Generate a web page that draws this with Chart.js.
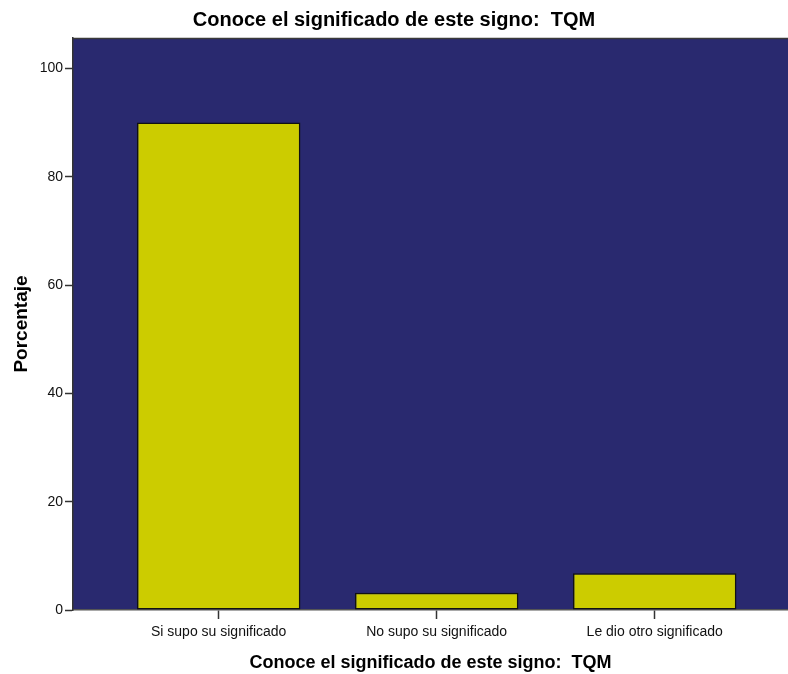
<!DOCTYPE html>
<html>
<head>
<meta charset="utf-8">
<script src="https://cdn.jsdelivr.net/npm/chart.js@4/dist/chart.umd.min.js"></script>
<style>
  html, body { margin: 0; padding: 0; background: #ffffff; }
  #c { display: block; }
</style>
</head>
<body>
<canvas id="c" width="788" height="674"></canvas>
<script>
const chartTitle = 'Conoce el significado de este signo:  TQM';
const xAxisTitle = 'Conoce el significado de este signo:  TQM';
const yAxisTitle = 'Porcentaje';
const categories = ['Si supo su significado', 'No supo su significado', 'Le dio otro significado'];
const percentages = [90.0, 3.2, 6.8];
const yTicks = [0, 20, 40, 60, 80, 100];
const categoryPositions = [1, 2, 3];

const FONT = 'Arial, "Liberation Sans", Helvetica, sans-serif';
const PLOT_BG = '#29296f';
const BAR_FILL = '#cccc00';

const plotBackground = {
  id: 'plotBackground',
  beforeDraw(chart) {
    const { ctx, chartArea: a } = chart;
    ctx.save();
    ctx.fillStyle = PLOT_BG;
    ctx.fillRect(a.left, a.top, a.right - a.left, a.bottom - a.top);
    ctx.strokeStyle = '#3a3a3a';
    ctx.lineWidth = 1.5;
    ctx.beginPath();
    ctx.moveTo(a.left, a.top + 0.5);
    ctx.lineTo(a.right, a.top + 0.5);
    ctx.stroke();
    ctx.restore();
  }
};

new Chart(document.getElementById('c'), {
  type: 'bar',
  data: {
    datasets: [{
      label: yAxisTitle,
      data: percentages.map((v, i) => ({ x: categoryPositions[i], y: v })),
      backgroundColor: BAR_FILL,
      borderColor: '#111111',
      borderWidth: 1.5,
      borderSkipped: false,
      categoryPercentage: 0.75,
      barPercentage: 1.0
    }]
  },
  options: {
    responsive: false,
    animation: false,
    layout: { padding: 0 },
    plugins: {
      legend: { display: false },
      tooltip: { enabled: false },
      title: {
        display: true,
        text: chartTitle,
        color: '#000',
        font: { family: FONT, size: 20, weight: 'bold' },
        padding: { top: 8, bottom: 6 }
      }
    },
    scales: {
      x: {
        type: 'linear',
        offset: false,
        min: 0.3317,
        max: 3.6115,
        afterBuildTicks(scale) {
          scale.ticks = categoryPositions.map(v => ({ value: v }));
        },
        afterFit(scale) { scale.height = 64; },
        grid: {
          offset: false,
          drawOnChartArea: false,
          drawTicks: true,
          tickLength: 9,
          tickColor: '#333',
          tickWidth: 1.5
        },
        border: { display: true, color: '#555', width: 1.5 },
        ticks: {
          autoSkip: false,
          maxRotation: 0,
          padding: 5,
          color: '#111',
          font: { family: FONT, size: 14 },
          callback(value) {
            const i = categoryPositions.indexOf(value);
            return i >= 0 ? categories[i] : '';
          }
        },
        title: {
          display: true,
          text: xAxisTitle,
          color: '#000',
          font: { family: FONT, size: 18, weight: 'bold' },
          padding: { top: 0, bottom: 0 }
        }
      },
      y: {
        type: 'linear',
        min: 0,
        max: 105.6,
        afterBuildTicks(scale) {
          scale.ticks = yTicks.map(v => ({ value: v }));
        },
        afterFit(scale) { scale.width = 73; },
        grid: {
          drawOnChartArea: false,
          drawTicks: true,
          tickLength: 8,
          tickColor: '#333',
          tickWidth: 1.5
        },
        border: { display: true, color: '#333', width: 1.5 },
        ticks: {
          padding: 2,
          color: '#111',
          font: { family: FONT, size: 14 }
        },
        title: {
          display: true,
          text: yAxisTitle,
          color: '#000',
          font: { family: FONT, size: 19, weight: 'bold' },
          padding: { top: 10, bottom: 0 }
        }
      }
    }
  },
  plugins: [plotBackground]
});
</script>
</body>
</html>
